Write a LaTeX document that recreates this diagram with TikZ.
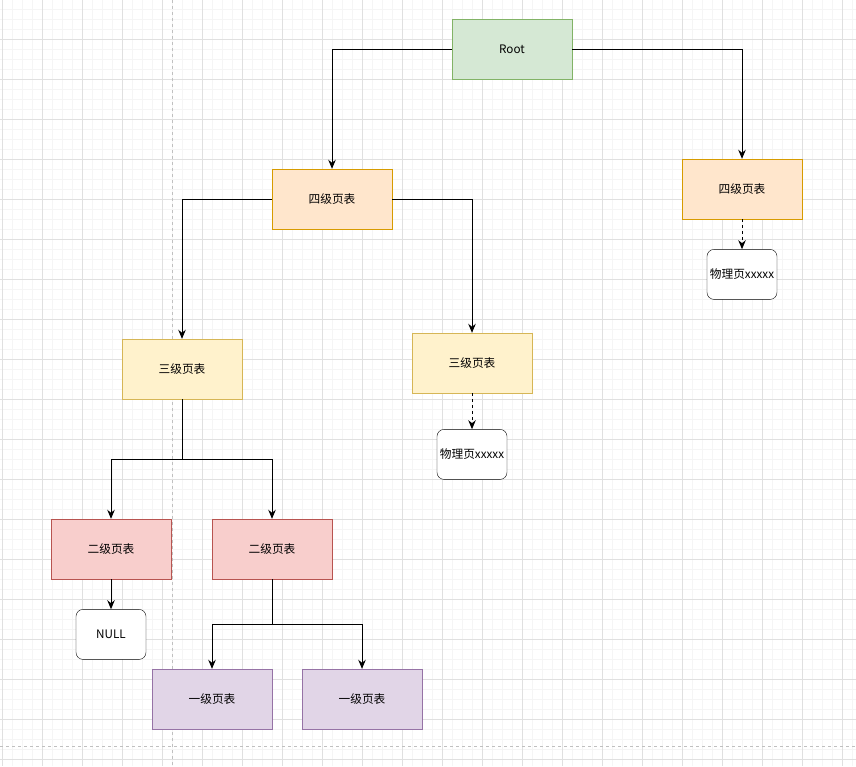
\documentclass[tikz,border=0pt]{standalone}
\usepackage{fontspec}
\setmainfont{Noto Sans CJK SC}
\usetikzlibrary{positioning, arrows.meta}

\definecolor{gridminor}{HTML}{F5F5F5}
\definecolor{gridmajor}{HTML}{E0E0E0}
\definecolor{pagebreak}{HTML}{C0C0C0}
\definecolor{greenfill}{HTML}{D5E8D4}
\definecolor{greenline}{HTML}{82B366}
\definecolor{orangefill}{HTML}{FFE6CC}
\definecolor{orangeline}{HTML}{D79B00}
\definecolor{yellowfill}{HTML}{FFF2CC}
\definecolor{yellowline}{HTML}{D6B656}
\definecolor{redfill}{HTML}{F8CECC}
\definecolor{redline}{HTML}{B85450}
\definecolor{purplefill}{HTML}{E1D5E7}
\definecolor{purpleline}{HTML}{9673A6}

\begin{document}
\begin{tikzpicture}[x=1pt, y=-1pt,
    table/.style={draw, rectangle, minimum width=120pt, minimum height=60pt, inner sep=0pt, font=\fontsize{11.7}{14}\selectfont},
    page/.style={draw, rectangle, rounded corners=7pt, fill=white, minimum width=70pt, minimum height=50pt, inner sep=0pt, font=\fontsize{11.7}{14}\selectfont},
    link/.style={-{Stealth[length=9pt, width=7.5pt]}, line width=1pt}]
    \useasboundingbox (0,0) rectangle (856,766);
    \fill[white] (0,0) rectangle (856,766);

    % grid
    \foreach \x in {2,12,...,852} \draw[gridminor, line width=0.8pt] (\x,0) -- (\x,766);
    \foreach \y in {9,19,...,759} \draw[gridminor, line width=0.8pt] (0,\y) -- (856,\y);
    \foreach \x in {2,42,...,842} \draw[gridmajor, line width=0.8pt] (\x,0) -- (\x,766);
    \foreach \y in {39,79,...,759} \draw[gridmajor, line width=0.8pt] (0,\y) -- (856,\y);
    \draw[pagebreak, dashed, line width=0.8pt] (172,0) -- (172,766);
    \draw[pagebreak, dashed, line width=0.8pt] (0,746) -- (856,746);

    \node[table, fill=greenfill, draw=greenline] (root) at (512,49) {Root};
    \node[table, fill=orangefill, draw=orangeline] (l4a) at (332,199) {四级页表};
    \node[table, fill=orangefill, draw=orangeline] (l4b) at (742,189) {四级页表};
    \node[page, below=30pt of l4b] (pgr) {物理页xxxxx};
    \node[table, fill=yellowfill, draw=yellowline] (l3a) at (182,369) {三级页表};
    \node[table, fill=yellowfill, draw=yellowline] (l3b) at (472,363) {三级页表};
    \node[page, below=36pt of l3b] (pgm) {物理页xxxxx};
    \node[table, fill=redfill, draw=redline] (l2a) at (111,549) {二级页表};
    \node[table, fill=redfill, draw=redline] (l2b) at (272,549) {二级页表};
    \node[page, below=30pt of l2a] (null) {NULL};
    \node[table, fill=purplefill, draw=purpleline] (l1a) at (212,699) {一级页表};
    \node[table, fill=purplefill, draw=purpleline] (l1b) at (362,699) {一级页表};

    \coordinate[below=60pt of l3a] (fork3);
    \coordinate[below=45pt of l2b] (fork2);

    \draw[link] (root.west) -| (l4a.north);
    \draw[link] (root.east) -| (l4b.north);
    \draw[link] (l4a.west) -| (l3a.north);
    \draw[link] (l4a.east) -| (l3b.north);
    \draw[link, dashed] (l4b) -- (pgr);
    \draw[link, dashed] (l3b) -- (pgm);
    \draw[link] (l3a.south) -- (fork3) -| (l2a.north);
    \draw[link] (fork3) -| (l2b.north);
    \draw[link] (l2a) -- (null);
    \draw[link] (l2b.south) -- (fork2) -| (l1a.north);
    \draw[link] (fork2) -| (l1b.north);

\end{tikzpicture}
\end{document}
